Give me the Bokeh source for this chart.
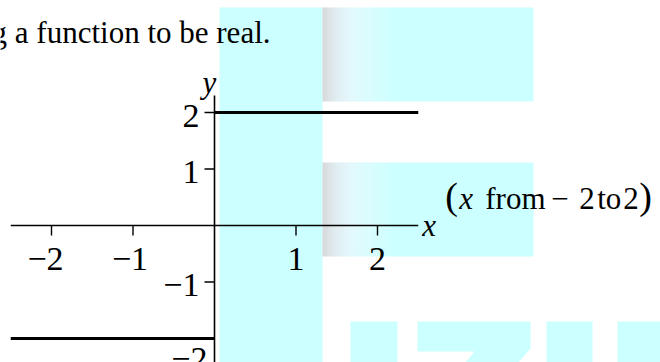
import math
from bokeh.plotting import figure
from bokeh.models import Range1d
from bokeh.core.properties import value
from bokeh.embed import file_html
from bokeh.resources import INLINE

# ---- chart data -------------------------------------------------------
# piecewise-constant function: -2 for x < 0, 2 for x > 0
left_x = [-2.5, 0.0]
left_y = [-2.0, -2.0]
right_x = [0.0, 2.5]
right_y = [2.0, 2.0]

x_axis_extent = [-2.5, 2.5]
y_axis_extent = [-2.6, 2.3]

x_ticks = [-2, -1, 1, 2]
x_tick_labels = ["\u22122", "\u22121", "1", "2"]
y_ticks = [-1, 1, 2]
y_tick_labels = ["\u22121", "1", "2"]
y_low_tick = [-2]
y_low_label = ["\u22122"]

caption = "g a function to be real."

# ---- page geometry (pixel <-> data mapping) ---------------------------
W, H = 660, 362
OX, OY = 214.0, 225.0      # pixel position of the origin
SX, SY = 81.5, 56.5        # pixels per unit


def dx(px):
    return (px - OX) / SX


def dy(py):
    return (OY - py) / SY


p = figure(width=W, height=H, output_backend="svg", toolbar_location=None,
           x_range=Range1d(dx(0), dx(W)), y_range=Range1d(dy(H), dy(0)),
           x_axis_location=None, y_axis_location=None, min_border=0)
p.grid.visible = False
p.outline_line_color = None
p.background_fill_color = "white"
p.border_fill_color = "white"

CYAN = "#ccffff"

# ---- background panels ------------------------------------------------
p.quad(left=[dx(219)], right=[dx(322)], top=[dy(7)], bottom=[dy(370)],
       fill_color=CYAN, line_color=None)


def lerp(a, b, t):
    return tuple(round(a[i] + (b[i] - a[i]) * t) for i in range(3))


stops = [(322, (214, 214, 216)), (334, (222, 234, 238)), (350, (226, 248, 252)),
         (372, (214, 253, 253)), (392, (204, 255, 255))]


def shade(px):
    for (x0, c0), (x1, c1) in zip(stops, stops[1:]):
        if x0 <= px <= x1:
            return "#%02x%02x%02x" % lerp(c0, c1, (px - x0) / (x1 - x0))
    return CYAN


for top, bottom in [(7, 101), (162, 256)]:
    p.quad(left=[dx(392)], right=[dx(533)], top=[dy(top)], bottom=[dy(bottom)],
           fill_color=CYAN, line_color=None)
    lefts = list(range(322, 392, 2))
    p.quad(left=[dx(v) for v in lefts], right=[dx(v + 2.3) for v in lefts],
           top=dy(top), bottom=dy(bottom),
           fill_color=[shade(v + 1) for v in lefts], line_color=None)

# bottom decorative blocks
for l, r in [(350, 397), (546, 592), (617, 665)]:
    p.quad(left=[dx(l)], right=[dx(r)], top=[dy(321)], bottom=[dy(370)],
           fill_color=CYAN, line_color=None)
zx = [417, 530, 530, 514, 461, 474, 417]
zy = [321, 321, 348, 367, 367, 351, 351]
p.patch([dx(v) for v in zx], [dy(v) for v in zy], fill_color=CYAN, line_color=None)

# ---- axes -------------------------------------------------------------
p.line(x_axis_extent, [0, 0], line_color="black", line_width=1.6)
p.line([0, 0], y_axis_extent, line_color="black", line_width=1.6)
p.ray(x=x_ticks, y=[0] * len(x_ticks), length=10, length_units="screen",
      angle=-math.pi / 2, line_color="black", line_width=1.4)
p.ray(x=[0] * (len(y_ticks) + 1), y=y_ticks + y_low_tick, length=10,
      length_units="screen", angle=math.pi, line_color="black", line_width=1.4)

FONT = value("Liberation Serif")
TICK_SIZE = "34px"
p.text(x=x_ticks, y=[0] * len(x_ticks), text=x_tick_labels, text_font=FONT,
       text_font_size=TICK_SIZE, text_align="center", text_baseline="alphabetic",
       x_offset=[-6, -3, 0, 0], y_offset=33, text_color="black")
p.text(x=[0] * len(y_ticks), y=y_ticks, text=y_tick_labels, text_font=FONT,
       text_font_size=TICK_SIZE, text_align="right", text_baseline="alphabetic",
       x_offset=-15, y_offset=3, text_color="black")
p.text(x=[0], y=y_low_tick, text=y_low_label, text_font=FONT,
       text_font_size=TICK_SIZE, text_align="right", text_baseline="alphabetic",
       x_offset=-7, y_offset=20, text_color="black")

# axis names
p.text(x=[0], y=[y_axis_extent[1]], text=["y"], text_font=FONT,
       text_font_style="italic", text_font_size="31px", text_align="center",
       text_baseline="alphabetic", x_offset=-5, y_offset=-13, text_color="black")
p.text(x=[x_axis_extent[1]], y=[0], text=["x"], text_font=FONT,
       text_font_style="italic", text_font_size="31px", text_align="left",
       text_baseline="alphabetic", x_offset=4, y_offset=0, text_color="black")

# ---- function graph ---------------------------------------------------
p.line(left_x, left_y, line_color="black", line_width=3)
p.line(right_x, right_y, line_color="black", line_width=3)

# ---- range note: (x from − 2 to 2) -----------------------------------
ax, ay = x_axis_extent[1], 0
p.text(x=[ax, ax], y=[ay, ay], text=["(", ")"], text_font=FONT,
       text_font_size="38px", text_align="left", text_baseline="alphabetic",
       x_offset=[27, 221], y_offset=[-30, -30], text_color="black")
p.text(x=[ax], y=[ay], text=["x"], text_font=FONT, text_font_style="italic",
       text_font_size="31px", text_align="left", text_baseline="alphabetic",
       x_offset=[41], y_offset=[-27], text_color="black")
pieces = ["from", "\u2212", "2", "to", "2"]
offs = [67, 133, 161, 179, 205]
p.text(x=[ax] * len(pieces), y=[ay] * len(pieces), text=pieces, text_font=FONT,
       text_font_size="31px", text_align="left", text_baseline="alphabetic",
       x_offset=offs, y_offset=-27, text_color="black")

# ---- caption ----------------------------------------------------------
p.text(x=[dx(270)], y=[dy(32)], text=[caption], text_font=FONT,
       text_font_size="31px", text_align="right", text_baseline="alphabetic",
       text_color="black")

open("out.html", "w").write(file_html(p, INLINE))
